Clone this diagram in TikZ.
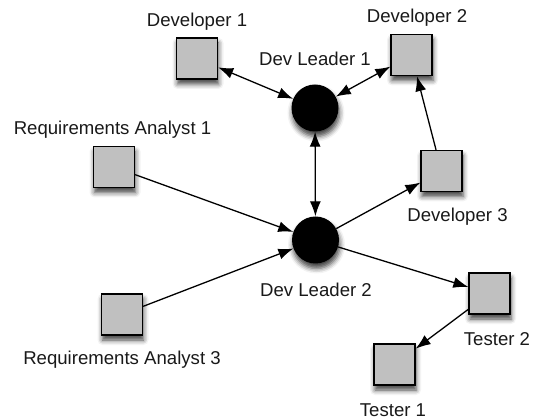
\documentclass[tikz,border=0pt]{standalone}
\usepackage{fontspec}
\setmainfont{Liberation Sans}
\usetikzlibrary{arrows.meta,shadows.blur}
\definecolor{boxgray}{RGB}{192,192,192}
\begin{document}
\begin{tikzpicture}[x=1pt,y=-1pt,
  person/.style={draw=black,line width=1.3pt,fill=boxgray,minimum size=41pt,inner sep=0pt,
    blur shadow={shadow xshift=1pt,shadow yshift=-5pt,shadow blur radius=5pt,shadow opacity=75}},
  leader/.style={circle,fill=black,minimum size=47pt,inner sep=0pt,
    blur shadow={shadow xshift=1pt,shadow yshift=-5pt,shadow blur radius=5pt,shadow opacity=75}},
  lbl/.style={font=\fontsize{18.6}{22}\selectfont,inner sep=0pt,text=black!90},
  link/.style={line width=1.3pt,-{Latex[length=15pt,width=11pt]}},
  both/.style={line width=1.3pt,{Latex[length=15pt,width=11pt]}-{Latex[length=15pt,width=11pt]}}]
\useasboundingbox (0,0) rectangle (539,419);
% nodes
\node[person] (dev1) at (197,58.5) {};
\node[person] (dev2) at (411.5,55) {};
\node[person] (dev3) at (441.5,171) {};
\node[person] (ra1) at (114,167) {};
\node[person] (ra3) at (122,314.5) {};
\node[person] (t2) at (489.5,293.5) {};
\node[person] (t1) at (394.5,364.5) {};
\node[leader] (dl1) at (315,108) {};
\node[leader] (dl2) at (315.5,240) {};
% labels
\node[lbl] (ldev1) at (197,22) {Developer 1};
\node[lbl] (ldev2) at (417,18) {Developer 2};
\node[lbl] (ldev3) at (457.5,217) {Developer 3};
\node[lbl] (lra1) at (112.5,130) {Requirements Analyst 1};
\node[lbl] (lra3) at (122,360) {Requirements Analyst 3};
\node[lbl] (lt2) at (497,339) {Tester 2};
\node[lbl] (lt1) at (393,410) {Tester 1};
\node[lbl] (ldl1) at (315,59) {Dev Leader 1};
\node[lbl] (ldl2) at (316,290) {Dev Leader 2};
% connectors
\draw[both] (dev1) -- (dl1);
\draw[both] (dev2) -- (dl1);
\draw[both] (dl1) -- (dl2);
\draw[link] (ra1) -- (dl2);
\draw[link] (ra3) -- (dl2);
\draw[link] (dl2) -- (dev3);
\draw[link] (dev3) -- (dev2);
\draw[link] (dl2) -- (t2);
\draw[link] (t2) -- (t1);
\end{tikzpicture}
\end{document}
